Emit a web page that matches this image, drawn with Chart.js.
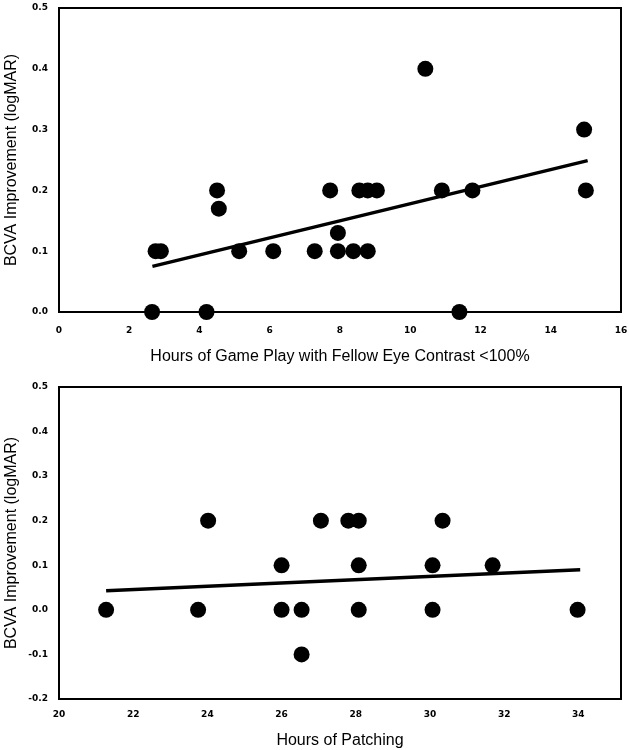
<!DOCTYPE html>
<html>
<head>
<meta charset="utf-8">
<script src="https://cdn.jsdelivr.net/npm/chart.js@4.4.1/dist/chart.umd.min.js"></script>
<style>
    html, body { margin: 0; padding: 0; background: #ffffff; }
    .panel { position: absolute; left: 0; width: 629px; }
    #top { top: 0; height: 370px; }
    #bottom { top: 370px; height: 380px; }
</style>
</head>
<body>
<div class="panel" id="top"><canvas id="gameChart"></canvas></div>
<div class="panel" id="bottom"><canvas id="patchChart"></canvas></div>
<script>
// Panel A: hours of game play vs BCVA improvement
const gameHours = [2.65, 4.2, 2.75, 2.9, 4.5, 4.55, 5.13, 6.1, 7.28, 7.72, 7.94, 7.94, 8.38, 8.79, 8.55, 8.79, 9.05, 10.43, 10.9, 11.77, 11.4, 14.95, 15.0];
const gameImprove = [0.0, 0.0, 0.1, 0.1, 0.2, 0.17, 0.1, 0.1, 0.1, 0.2, 0.13, 0.1, 0.1, 0.1, 0.2, 0.2, 0.2, 0.4, 0.2, 0.2, 0.0, 0.3, 0.2];
const gameTrendX = [2.66, 15.05];
const gameTrendY = [0.075, 0.249];

// Panel B: hours of patching vs BCVA improvement
const patchHours = [21.27, 23.75, 24.02, 26.0, 26.0, 26.54, 26.54, 27.06, 27.8, 28.08, 28.08, 28.08, 30.07, 30.07, 30.34, 31.69, 33.98];
const patchImprove = [0.0, 0.0, 0.2, 0.1, 0.0, 0.0, -0.1, 0.2, 0.2, 0.2, 0.1, 0.0, 0.1, 0.0, 0.2, 0.1, 0.0];
const patchTrendX = [21.27, 34.05];
const patchTrendY = [0.043, 0.09];

const yTitle = 'BCVA Improvement (logMAR)';

const tickFont = { family: '"DejaVu Sans", sans-serif', size: 9, weight: 'bold' };
const titleFont = { family: '"Liberation Sans", Arial, sans-serif', size: 16 };

function pairs(xs, ys) {
    return xs.map((x, i) => ({ x, y: ys[i] }));
}

// full box around the plot area, under the markers
const frame = {
    id: 'frame',
    beforeDatasetsDraw(chart) {
        const { left, top, right, bottom } = chart.chartArea;
        const ctx = chart.ctx;
        ctx.save();
        ctx.strokeStyle = '#000';
        ctx.lineWidth = 2;
        ctx.strokeRect(left, top, right - left, bottom - top);
        ctx.restore();
    },
};

function makeChart(canvasId, opts) {
    return new Chart(document.getElementById(canvasId), {
        type: 'scatter',
        data: {
            datasets: [
                {
                    data: pairs(opts.xs, opts.ys),
                    backgroundColor: '#000',
                    borderWidth: 0,
                    pointRadius: 8,
                    pointHoverRadius: 8,
                    clip: false,
                },
                {
                    type: 'line',
                    data: pairs(opts.trendX, opts.trendY),
                    borderColor: '#000',
                    borderWidth: 3.5,
                    pointRadius: 0,
                    fill: false,
                    clip: false,
                },
            ],
        },
        options: {
            responsive: true,
            maintainAspectRatio: false,
            animation: false,
            layout: { padding: { top: opts.padTop, right: 8, left: 0, bottom: 0 } },
            plugins: { legend: { display: false }, tooltip: { enabled: false } },
            scales: {
                x: {
                    type: 'linear',
                    min: opts.xMin,
                    max: opts.xMax,
                    grid: { display: false, drawTicks: false },
                    border: { display: false },
                    ticks: {
                        stepSize: 2,
                        includeBounds: false,
                        color: '#000',
                        font: tickFont,
                        padding: opts.xTickPad,
                        maxRotation: 0,
                    },
                    title: {
                        display: true,
                        text: opts.xTitle,
                        color: '#000',
                        font: titleFont,
                        padding: { top: 0, bottom: opts.xTitlePad },
                    },
                    afterFit: (s) => {
                        s.height = opts.xAxisH;
                        s.paddingLeft = 0;
                        s.paddingRight = 0;
                    },
                },
                y: {
                    min: opts.yMin,
                    max: 0.5,
                    grid: { display: false, drawTicks: false },
                    border: { display: false },
                    ticks: {
                        stepSize: 0.1,
                        color: '#000',
                        font: tickFont,
                        padding: 11,
                        callback: (v) => (Math.abs(v) < 1e-9 ? 0 : Number(v)).toFixed(1),
                    },
                    title: {
                        display: true,
                        text: yTitle,
                        color: '#000',
                        font: titleFont,
                        padding: { top: 2, bottom: 0 },
                    },
                    afterFit: (s) => {
                        s.width = 59;
                        s.paddingTop = 0;
                        s.paddingBottom = 0;
                    },
                },
            },
        },
        plugins: [frame],
    });
}

makeChart('gameChart', {
    xs: gameHours, ys: gameImprove, trendX: gameTrendX, trendY: gameTrendY,
    xMin: 0, xMax: 16, yMin: 0, padTop: 7,
    xTitle: 'Hours of Game Play with Fellow Eye Contrast <100%',
    xAxisH: 58, xTickPad: 13, xTitlePad: 4,
});

makeChart('patchChart', {
    xs: patchHours, ys: patchImprove, trendX: patchTrendX, trendY: patchTrendY,
    xMin: 20, xMax: 35.15, yMin: -0.2, padTop: 17,
    xTitle: 'Hours of Patching',
    xAxisH: 51, xTickPad: 10, xTitlePad: 0,
});
</script>
</body>
</html>
